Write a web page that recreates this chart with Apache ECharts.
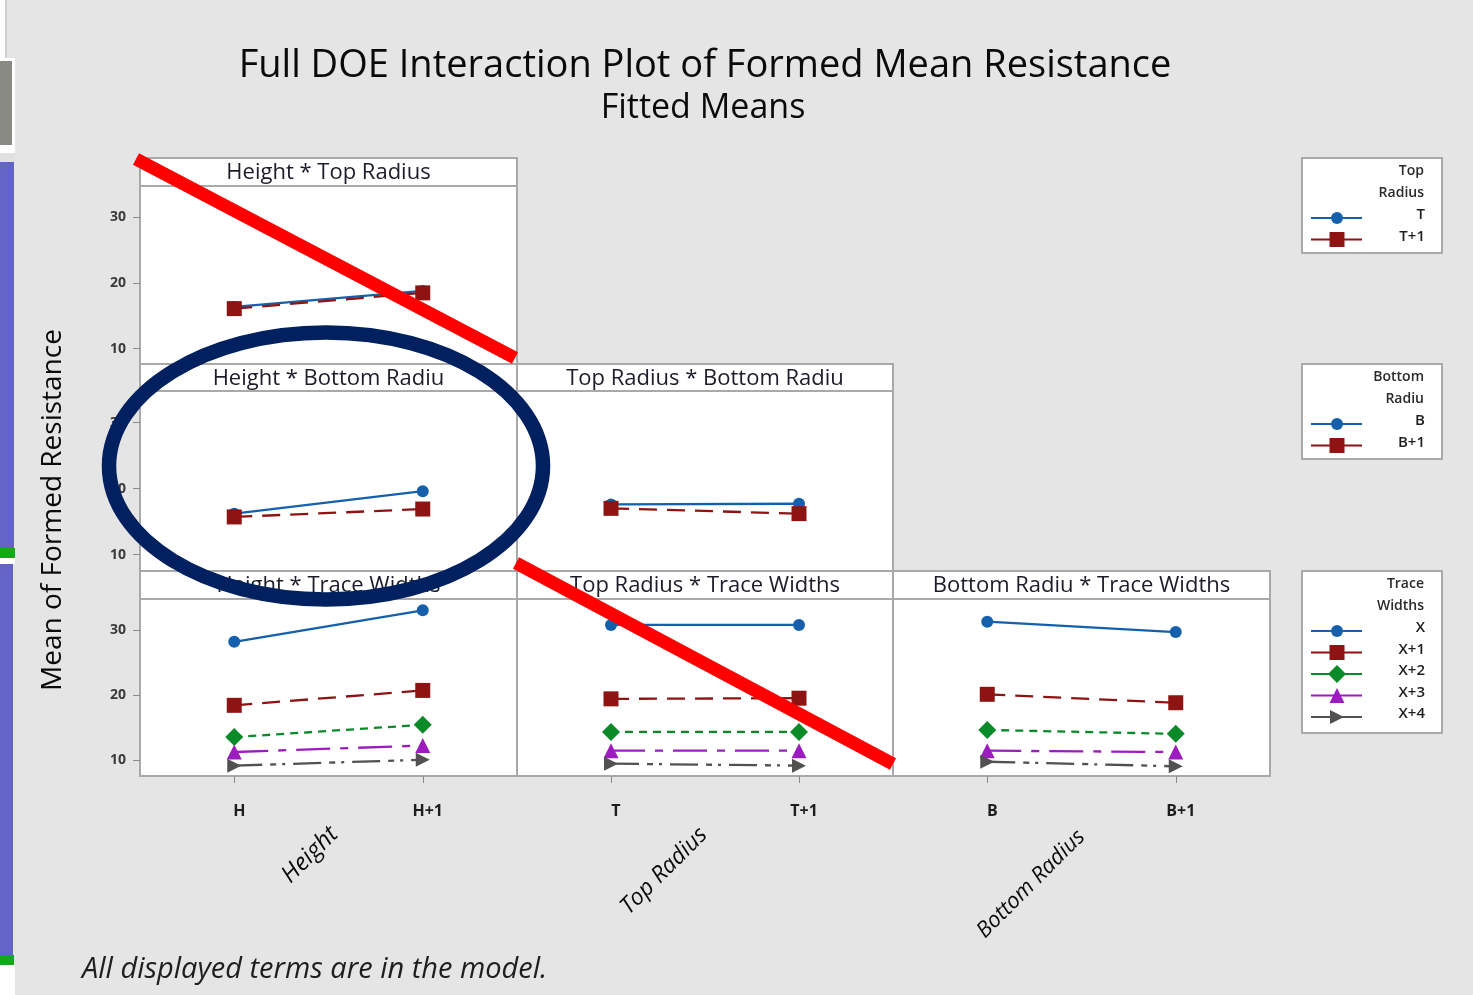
<!DOCTYPE html>
<html>
<head>
<meta charset="utf-8">
<title>Full DOE Interaction Plot of Formed Mean Resistance</title>
<script src="https://cdn.jsdelivr.net/npm/echarts@6/dist/echarts.min.js"></script>
<style>
  html, body { margin: 0; padding: 0; background: #e5e5e5; }
  #chart { width: 1473px; height: 995px; }
</style>
</head>
<body>
<div id="chart"></div>
<script>
// ---- factor levels ----
const heightLevels = ['H', 'H+1'];
const topLevels = ['T', 'T+1'];
const bottomLevels = ['B', 'B+1'];
const traceLevels = ['X', 'X+1', 'X+2', 'X+3', 'X+4'];
const yTickValues = [10, 20, 30];

// ---- fitted means (one row per level of the second factor) ----
const heightByTop = [[16.35, 18.8], [16.1, 18.5]];
const heightByBottom = [[16.2, 19.6], [15.7, 16.9]];
const topByBottom = [[17.6, 17.7], [17.0, 16.2]];
const heightByTrace = [[28.2, 33.05], [18.4, 20.7], [13.5, 15.4], [11.2, 12.2], [9.1, 10.0]];
const topByTrace = [[30.8, 30.8], [19.4, 19.5], [14.3, 14.3], [11.4, 11.4], [9.4, 9.1]];
const bottomByTrace = [[31.3, 29.7], [20.1, 18.8], [14.6, 14.0], [11.4, 11.2], [9.7, 9.0]];

// ---- panel layout of the interaction matrix ----
const colLeft = [140, 517, 893];
const colWidth = [377, 376, 377];
const rowHeaderTop = [158, 364, 571];
const rowPlotTop = [186, 391, 599];
const rowPlotHeight = [179, 180, 177];
const yMin = 7.5, yMax = 34.8;

const panels = [
  { title: 'Height * Top Radius', levels: heightLevels, values: heightByTop, row: 0, col: 0 },
  { title: 'Height * Bottom Radiu', levels: heightLevels, values: heightByBottom, row: 1, col: 0 },
  { title: 'Top Radius * Bottom Radiu', levels: topLevels, values: topByBottom, row: 1, col: 1 },
  { title: 'Height * Trace Widths', levels: heightLevels, values: heightByTrace, row: 2, col: 0 },
  { title: 'Top Radius * Trace Widths', levels: topLevels, values: topByTrace, row: 2, col: 1 },
  { title: 'Bottom Radiu * Trace Widths', levels: bottomLevels, values: bottomByTrace, row: 2, col: 2 }
];

// line / symbol style for the 1st..5th level of the trace factor
const levelStyles = [
  { color: '#1560ad', dash: 'solid', symbol: 'circle', size: 12 },
  { color: '#8e1414', dash: [18, 10], symbol: 'rect', size: 15 },
  { color: '#0b8a29', dash: [8, 6], symbol: 'diamond', size: 18 },
  { color: '#9c1cc0', dash: [34, 10, 8, 10], symbol: 'triangle', size: 15 },
  { color: '#515151', dash: [28, 8, 6, 6, 3, 8], symbol: 'path://M0,0L10,5L0,10Z', size: 14 }
];

const UI_FONT = '"Open Sans", "Noto Sans", sans-serif';

const grids = [], xAxes = [], yAxes = [], series = [];
const graphics = [];

panels.forEach((p, i) => {
  grids.push({
    left: colLeft[p.col], top: rowPlotTop[p.row],
    width: colWidth[p.col], height: rowPlotHeight[p.row],
    show: true, backgroundColor: '#ffffff', borderColor: '#a9a9a9', borderWidth: 2
  });
  xAxes.push({
    gridIndex: i, type: 'category', data: p.levels, boundaryGap: true,
    axisLine: { show: false },
    axisTick: { show: p.row === 2, alignWithLabel: true, length: 7, lineStyle: { color: '#8a8a8a', width: 1 } },
    axisLabel: { show: p.row === 2, margin: 27, fontSize: 16, fontWeight: 'bold', color: '#1e1e1e',
                 fontFamily: UI_FONT, padding: [0, 0, 0, 10] },
    splitLine: { show: false }
  });
  yAxes.push({
    gridIndex: i, type: 'value', min: yMin, max: yMax,
    axisLine: { show: false },
    splitLine: { show: false },
    axisTick: { show: p.col === 0, customValues: yTickValues, length: 7, lineStyle: { color: '#8a8a8a' } },
    axisLabel: { show: p.col === 0, customValues: yTickValues, margin: 14, fontSize: 14,
                 fontWeight: 'bold', color: '#3a3a3a', fontFamily: UI_FONT }
  });
  p.values.forEach((vals, k) => {
    const st = levelStyles[k];
    series.push({
      type: 'line', xAxisIndex: i, yAxisIndex: i, data: vals,
      symbol: st.symbol, symbolSize: st.size, showSymbol: true,
      lineStyle: { color: st.color, width: 2.3, type: st.dash },
      itemStyle: { color: st.color, opacity: 1 },
      emphasis: { disabled: true }, silent: true, animation: false
    });
  });
  // panel header strip
  graphics.push({
    type: 'rect', z: 10,
    shape: { x: colLeft[p.col], y: rowHeaderTop[p.row], width: colWidth[p.col], height: rowPlotTop[p.row] - rowHeaderTop[p.row] },
    style: { fill: '#ffffff', stroke: '#a9a9a9', lineWidth: 2 }
  });
  graphics.push({
    type: 'text', z: 11,
    x: colLeft[p.col] + colWidth[p.col] / 2, y: (rowHeaderTop[p.row] + rowPlotTop[p.row]) / 2 + 1,
    style: { text: p.title, fill: '#1c1c2a', font: '22px ' + UI_FONT,
             align: 'center', verticalAlign: 'middle', textAlign: 'center', textVerticalAlign: 'middle' }
  });
});

// ---- legends (one box per second factor) ----
function legendSymbol(k, cx, cy) {
  const st = levelStyles[k], s = st.size, h = s / 2;
  const style = { fill: st.color };
  switch (k) {
    case 0: return { type: 'circle', z: 12, shape: { cx, cy, r: h }, style };
    case 1: return { type: 'rect', z: 12, shape: { x: cx - h, y: cy - h, width: s, height: s }, style };
    case 2: return { type: 'polygon', z: 12, shape: { points: [[cx, cy - h], [cx + h, cy], [cx, cy + h], [cx - h, cy]] }, style };
    case 3: return { type: 'polygon', z: 12, shape: { points: [[cx, cy - h], [cx + h, cy + h], [cx - h, cy + h]] }, style };
    default: return { type: 'polygon', z: 12, shape: { points: [[cx - h, cy - h], [cx + h, cy], [cx - h, cy + h]] }, style };
  }
}
function addLegend(box, heading, levels) {
  graphics.push({ type: 'rect', z: 10, shape: { x: 1302, y: box.top, width: 140, height: box.height },
                  style: { fill: '#ffffff', stroke: '#a9a9a9', lineWidth: 2 } });
  heading.forEach((line, j) => {
    graphics.push({ type: 'text', z: 11, x: 1424, y: box.top + 13 + j * 22,
      style: { text: line, fill: '#2a2a2a', font: '600 14px ' + UI_FONT, align: 'right', verticalAlign: 'middle',
               textAlign: 'right', textVerticalAlign: 'middle' } });
  });
  levels.forEach((lv, k) => {
    const ty = box.top + 13 + heading.length * 22 + k * 21.5;
    const ly = ty + 3;
    graphics.push({ type: 'line', z: 11, shape: { x1: 1311, y1: ly, x2: 1362, y2: ly },
                    style: { stroke: levelStyles[k].color, lineWidth: 2 } });
    graphics.push(legendSymbol(k, 1337, ly));
    graphics.push({ type: 'text', z: 11, x: 1425, y: ty,
      style: { text: lv, fill: '#1e1e1e', font: '600 15px ' + UI_FONT, align: 'right', verticalAlign: 'middle',
               textAlign: 'right', textVerticalAlign: 'middle' } });
  });
}
addLegend({ top: 158, height: 95 }, ['Top', 'Radius'], topLevels);
addLegend({ top: 364, height: 95 }, ['Bottom', 'Radiu'], bottomLevels);
addLegend({ top: 571, height: 162 }, ['Trace', 'Widths'], traceLevels);

// ---- titles and axis names ----
function label(text, x, y, font, opts) {
  graphics.push(Object.assign({
    type: 'text', z: 11, x, y,
    style: { text, fill: '#0a0a0a', font, align: 'center', verticalAlign: 'middle',
             textAlign: 'center', textVerticalAlign: 'middle' }
  }, opts || {}));
}
label('Full DOE Interaction Plot of Formed Mean Resistance', 705, 66, '500 38px ' + UI_FONT);
label('Fitted Means', 703, 108, '500 34px ' + UI_FONT);
label('Mean of Formed Resistance', 53, 510, '28px ' + UI_FONT, { rotation: Math.PI / 2 });
label('Height', 310, 855, 'italic 24px ' + UI_FONT, { rotation: Math.PI / 4 });
label('Top Radius', 664, 871, 'italic 23px ' + UI_FONT, { rotation: Math.PI / 4 });
label('Bottom Radius', 1031, 884, 'italic 22px ' + UI_FONT, { rotation: Math.PI / 4 });
graphics.push({ type: 'text', z: 11, x: 82, y: 970,
  style: { text: 'All displayed terms are in the model.', fill: '#1e1e1e', font: 'italic 29px ' + UI_FONT,
           align: 'left', verticalAlign: 'middle', textAlign: 'left', textVerticalAlign: 'middle' } });

// ---- slide edge strip on the left ----
[
  { x: 0, y: 0, w: 5, h: 58, c: '#ffffff' },
  { x: 5, y: 0, w: 2, h: 58, c: '#cfcfcf' },
  { x: 0, y: 58, w: 15, h: 95, c: '#ffffff' },
  { x: 0, y: 61, w: 12, h: 84, c: '#8a8a85' },
  { x: 0, y: 153, w: 15, h: 9, c: '#e0e0e0' },
  { x: 0, y: 162, w: 14, h: 386, c: '#6464c6' },
  { x: 0, y: 548, w: 15, h: 10, c: '#16a816' },
  { x: 0, y: 558, w: 15, h: 6, c: '#ffffff' },
  { x: 0, y: 564, w: 13, h: 391, c: '#6464c6' },
  { x: 0, y: 955, w: 14, h: 10, c: '#16a816' },
  { x: 0, y: 965, w: 15, h: 30, c: '#ffffff' }
].forEach(r => graphics.push({ type: 'rect', z: 1, shape: { x: r.x, y: r.y, width: r.w, height: r.h }, style: { fill: r.c } }));

// ---- hand-drawn markup over the plot ----
graphics.push({ type: 'ellipse', z: 50, shape: { cx: 326, cy: 466, rx: 217, ry: 133.5 },
                style: { fill: 'none', stroke: '#002060', lineWidth: 14.5 } });
graphics.push({ type: 'line', z: 51, shape: { x1: 136, y1: 159, x2: 515, y2: 358 },
                style: { stroke: '#ff0000', lineWidth: 13 } });
graphics.push({ type: 'line', z: 51, shape: { x1: 516, y1: 563, x2: 893, y2: 764 },
                style: { stroke: '#ff0000', lineWidth: 13 } });

const chart = echarts.init(document.getElementById('chart'), null, { renderer: 'canvas' });
chart.setOption({
  backgroundColor: '#e5e5e5',
  animation: false,
  grid: grids,
  xAxis: xAxes,
  yAxis: yAxes,
  series: series,
  graphic: { elements: graphics }
});
</script>
</body>
</html>
